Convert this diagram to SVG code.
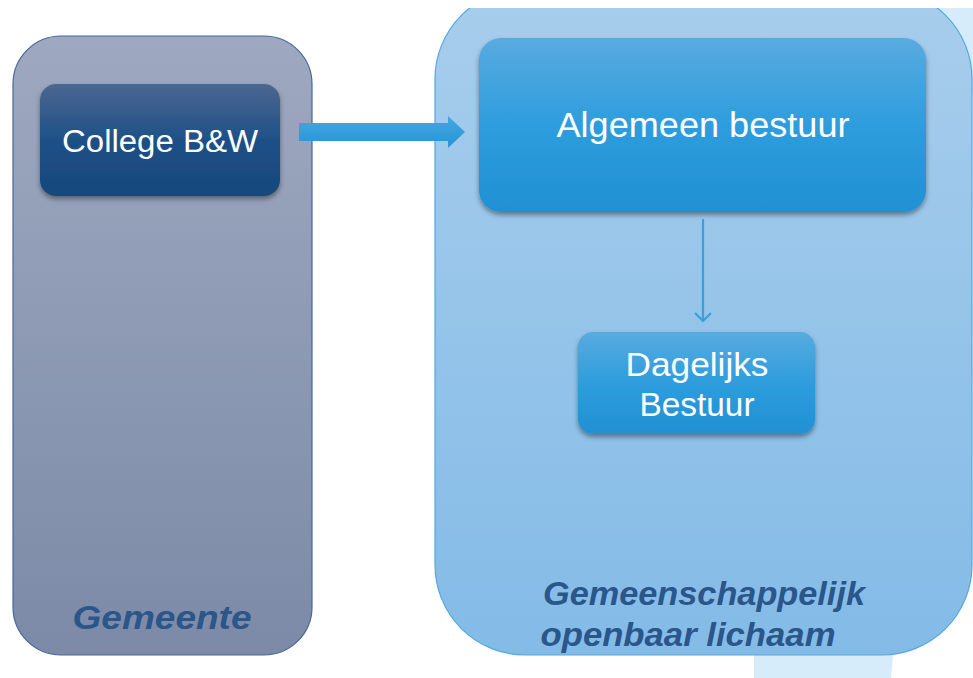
<svg xmlns="http://www.w3.org/2000/svg" width="973" height="678" viewBox="0 0 973 678">
<defs>
<linearGradient id="gLeft" x1="0" y1="0" x2="0" y2="1"><stop offset="0" stop-color="#9ea9c0"/><stop offset="1" stop-color="#7c8aa7"/></linearGradient>
<linearGradient id="gRight" x1="0" y1="0" x2="0" y2="1"><stop offset="0" stop-color="#a8cdec"/><stop offset="1" stop-color="#83bbe7"/></linearGradient>
<linearGradient id="gDark" x1="0" y1="0" x2="0" y2="1"><stop offset="0" stop-color="#4b6790"/><stop offset="0.5" stop-color="#1f5088"/><stop offset="1" stop-color="#164879"/></linearGradient>
<linearGradient id="gBlue" x1="0" y1="0" x2="0" y2="1"><stop offset="0" stop-color="#58abdf"/><stop offset="0.5" stop-color="#2e9ddd"/><stop offset="1" stop-color="#1f91d3"/></linearGradient>
<linearGradient id="gArrow" x1="0" y1="0" x2="0" y2="1"><stop offset="0" stop-color="#43a8e2"/><stop offset="1" stop-color="#2794d6"/></linearGradient>
<filter id="sh" x="-10%" y="-10%" width="120%" height="130%"><feDropShadow dx="0" dy="3" stdDeviation="2.5" flood-color="#000" flood-opacity="0.4"/></filter>
<marker id="chev" viewBox="0 0 20 20" refX="10" refY="10" markerWidth="20" markerHeight="20" markerUnits="userSpaceOnUse" orient="auto"><path d="M2,2 L10,10 L2,18" fill="none" stroke="#3aa0dc" stroke-width="2.2"/></marker>
<style>
.node-t{font-family:"Liberation Sans",Arial,sans-serif;fill:#ffffff;text-anchor:middle}
.lbl{font-family:"Liberation Sans",Arial,sans-serif;font-weight:bold;font-style:italic;fill:#2a568a;text-anchor:middle}
</style>
</defs>
<rect width="973" height="678" fill="#ffffff"/>
<polygon points="754,0 973,0 973,90 893,655 891,678 754,678" fill="#d7ecfb"/>
<g id="gemeente">
<rect x="13" y="36" width="299" height="619" rx="48" fill="url(#gLeft)" stroke="#45689a" stroke-width="1.2"/>
<text class="lbl" x="162" y="629" font-size="33" textLength="179" lengthAdjust="spacingAndGlyphs">Gemeente</text>
</g>
<g id="gol">
<rect x="435" y="-11" width="537" height="666" rx="90" fill="url(#gRight)" stroke="#52a8e0" stroke-width="1.2"/>
<text class="lbl" x="704" y="605" font-size="33" textLength="322" lengthAdjust="spacingAndGlyphs">Gemeenschappelijk</text>
<text class="lbl" x="688" y="646" font-size="33" textLength="295" lengthAdjust="spacingAndGlyphs">openbaar lichaam</text>
</g>
<rect x="0" y="0" width="973" height="8" fill="#ffffff"/>
<g id="college">
<rect x="40" y="84" width="240" height="112" rx="16" fill="url(#gDark)" filter="url(#sh)"/>
<text class="node-t" x="160" y="152" font-size="31" textLength="196" lengthAdjust="spacingAndGlyphs">College B&amp;W</text>
</g>
<g id="algemeen">
<rect x="479" y="38" width="447" height="174" rx="22" fill="url(#gBlue)" filter="url(#sh)"/>
<text class="node-t" x="703" y="137" font-size="35" textLength="293" lengthAdjust="spacingAndGlyphs">Algemeen bestuur</text>
</g>
<g id="dagelijks">
<rect x="578" y="332" width="237" height="102" rx="15" fill="url(#gBlue)" filter="url(#sh)"/>
<text class="node-t" x="697" y="376" font-size="33" textLength="143" lengthAdjust="spacingAndGlyphs">Dagelijks</text>
<text class="node-t" x="697" y="416" font-size="33" textLength="115" lengthAdjust="spacingAndGlyphs">Bestuur</text>
</g>
<g id="connectors">
<polygon points="299,123 448,123 448,116 465,132 448,148 448,141 299,141" fill="url(#gArrow)"/>
<line x1="703" y1="219" x2="703" y2="321" stroke="#3aa0dc" stroke-width="2.2" marker-end="url(#chev)"/>
</g>
</svg>
